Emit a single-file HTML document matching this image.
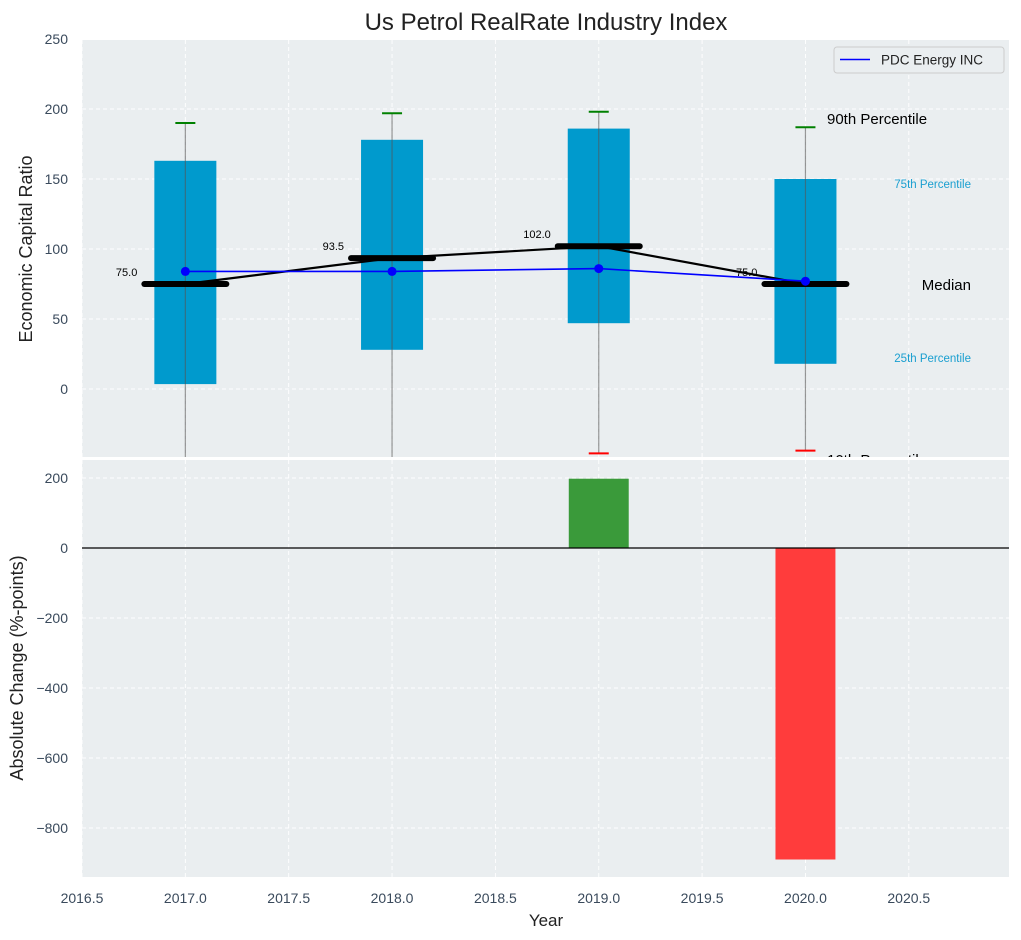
<!DOCTYPE html>
<html><head><meta charset="utf-8"><style>
body{margin:0;background:#fff}
svg{display:block;font-family:"Liberation Sans",Arial,sans-serif}
</style></head><body>
<svg id="c" width="1021" height="940"></svg>
<script>
const years=[2017,2018,2019,2020];
const q1=[3.5,28,47,18];
const q3=[163,178,186,150];
const p90=[190,197,198,187];
const p10=[-80,-80,-46,-44];
const medians=[75,93.5,102,75];
const medianLabels=["75.0","93.5","102.0","75.0"];
const companyVals=[84,84,86,77];
const changeYears=[2019,2020];
const changeVals=[198,-890];
const xTicks=[2016.5,2017.0,2017.5,2018.0,2018.5,2019.0,2019.5,2020.0,2020.5];
const topTicks=[0,50,100,150,200,250];
const botTicks=[200,0,-200,-400,-600,-800];

const NS="http://www.w3.org/2000/svg";
const svg=document.getElementById('c');
function el(t,a,p){const e=document.createElementNS(NS,t);for(const k in a)e.setAttribute(k,a[k]);(p||svg).appendChild(e);return e;}
const L=82,R=1009;
const X=v=>L+(v-2016.5)*206.7;
const T0=40,T1=457,Y=v=>389-(v)*1.4;
const B0=460,B1=877,YB=v=>548-v*0.35;

let bg=el('rect',{x:L,y:T0,width:R-L,height:T1-T0,fill:'#eaeef0'});

let bg2=el('rect',{x:L,y:B0,width:R-L,height:B1-B0,fill:'#eaeef0'});


const clipT=el('clipPath',{id:'ct'});el('rect',{x:L,y:T0,width:R-L,height:T1-T0},clipT);
const gT=el('g',{'clip-path':'url(#ct)'});

const clipB=el('clipPath',{id:'cb'});el('rect',{x:L,y:B0,width:R-L,height:B1-B0},clipB);
const gB=el('g',{'clip-path':'url(#cb)'});


xTicks.forEach(v=>{
 el('line',{x1:X(v),x2:X(v),y1:T0,y2:T1,stroke:'#fff','stroke-dasharray':'4,3','stroke-width':0.9},gT);
 el('line',{x1:X(v),x2:X(v),y1:B0,y2:B1,stroke:'#fff','stroke-dasharray':'4,3','stroke-width':0.9},gB);
 let t=el('text',{x:X(v),y:903,'text-anchor':'middle','font-size':14,fill:'#3a4a5c'});t.textContent=v.toFixed(1);
 
});
topTicks.forEach(v=>{
 el('line',{x1:L,x2:R,y1:Y(v),y2:Y(v),stroke:'#fff','stroke-dasharray':'4,3','stroke-width':0.9},gT);
 let t=el('text',{x:68,y:Y(v)+5,'text-anchor':'end','font-size':14,fill:'#3a4a5c'});t.textContent=v;
 
});
botTicks.forEach(v=>{
 el('line',{x1:L,x2:R,y1:YB(v),y2:YB(v),stroke:'#fff','stroke-dasharray':'4,3','stroke-width':0.9},gB);
 let t=el('text',{x:68,y:YB(v)+5,'text-anchor':'end','font-size':14,fill:'#3a4a5c'});t.textContent=(v<0?'\u2212'+(-v):v);
 
});

years.forEach((yr,i)=>{
 const cx=X(yr),hw=0.15*206.7;
 let b=el('rect',{x:cx-hw,y:Y(q3[i]),width:2*hw,height:Y(q1[i])-Y(q3[i]),fill:'#009ACD'},gT);
 
 let w=el('line',{x1:cx,x2:cx,y1:Y(p90[i]),y2:Y(p10[i]),stroke:'#555','stroke-opacity':0.6,'stroke-width':1.2},gT);
 
 let c1=el('line',{x1:cx-10,x2:cx+10,y1:Y(p90[i]),y2:Y(p90[i]),stroke:'green','stroke-width':2},gT);
 
 let c2=el('line',{x1:cx-10,x2:cx+10,y1:Y(p10[i]),y2:Y(p10[i]),stroke:'red','stroke-width':2},gT);
 
});
let mp=years.map((yr,i)=>X(yr)+','+Y(medians[i])).join(' ');
let ml=el('polyline',{points:mp,fill:'none',stroke:'#000','stroke-width':2.2},gT);

years.forEach((yr,i)=>{
 const cx=X(yr);
 let m=el('line',{x1:cx-41,x2:cx+41,y1:Y(medians[i]),y2:Y(medians[i]),stroke:'#000','stroke-width':6,'stroke-linecap':'round'},gT);
 
 let t=el('text',{x:cx-48,y:Y(medians[i])-8,'text-anchor':'end','font-size':11,fill:'#000'},gT);t.textContent=medianLabels[i];
 
});
let cp=years.map((yr,i)=>X(yr)+','+Y(companyVals[i])).join(' ');
let cl=el('polyline',{points:cp,fill:'none',stroke:'blue','stroke-width':1.6},gT);

years.forEach((yr,i)=>{
 let d=el('circle',{cx:X(yr),cy:Y(companyVals[i]),r:4.5,fill:'blue'},gT);
 
});
[['90th Percentile',827,124,15,'#000','start'],['75th Percentile',971,188,11.5,'#1a9fd0','end'],['Median',971,290,15,'#000','end'],['25th Percentile',971,362,11.5,'#1a9fd0','end'],['10th Percentile',827,465,15,'#000','start']].forEach(a=>{
 let t=el('text',{x:a[1],y:a[2],'font-size':a[3],fill:a[4],'text-anchor':a[5]},gT);t.textContent=a[0];
 
});
let lg=el('g',{});
el('rect',{x:834,y:47,width:170,height:26,rx:3,fill:'#eaeef0',stroke:'#ccc'},lg);
el('line',{x1:840,x2:870,y1:59.5,y2:59.5,stroke:'blue','stroke-width':1.6},lg);
let lt=el('text',{x:881,y:64.5,'font-size':13.5,fill:'#222'},lg);lt.textContent='PDC Energy INC';

changeYears.forEach((yr,i)=>{
 const v=changeVals[i],cx=X(yr),hw=0.145*206.7;
 let b=el('rect',{x:cx-hw,y:Math.min(YB(v),YB(0)),width:2*hw,height:Math.abs(YB(v)-YB(0)),fill:v>=0?'#3a9a3a':'#ff3c3c'},gB);
 
});
let z=el('line',{x1:L,x2:R,y1:YB(0),y2:YB(0),stroke:'#000','stroke-width':1.2},gB);


let ti=el('text',{x:546,y:30,'text-anchor':'middle','font-size':24,fill:'#222'});ti.textContent='Us Petrol RealRate Industry Index';

let yt=el('text',{x:0,y:0,'text-anchor':'middle','font-size':18,fill:'#222',transform:'translate(32,249) rotate(-90)'});yt.textContent='Economic Capital Ratio';

let yb=el('text',{x:0,y:0,'text-anchor':'middle','font-size':18,fill:'#222',transform:'translate(23,668) rotate(-90)'});yb.textContent='Absolute Change (%-points)';

let xt=el('text',{x:546,y:926,'text-anchor':'middle','font-size':17,fill:'#222'});xt.textContent='Year';

</script>
</body></html>
